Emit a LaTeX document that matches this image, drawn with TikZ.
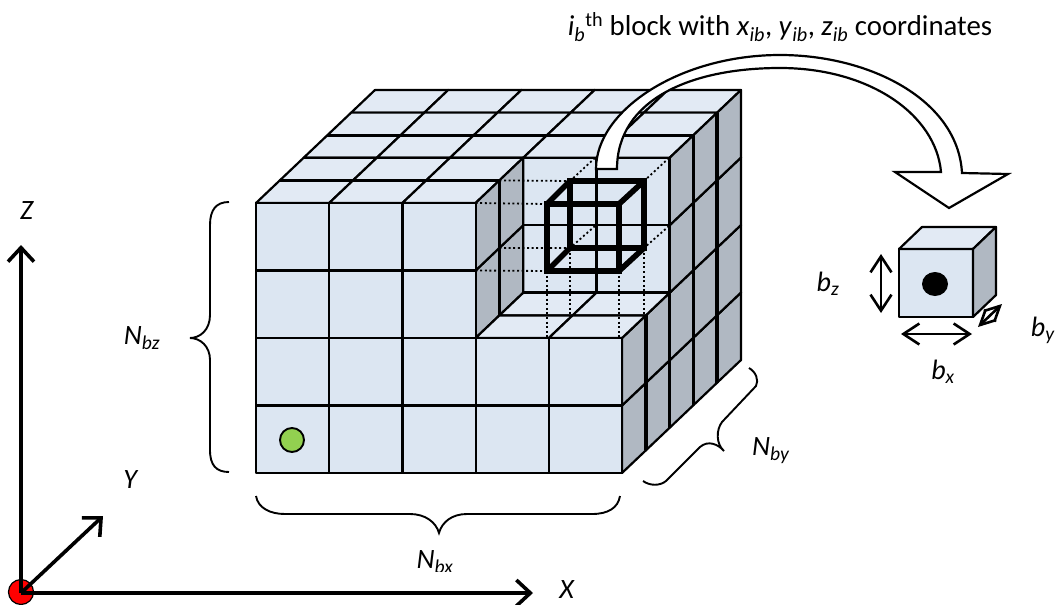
\documentclass[tikz,border=0pt]{standalone}
\usepackage{fontspec}
\setmainfont{Carlito}
\usetikzlibrary{arrows.meta}
\definecolor{frontblue}{HTML}{DCE6F2}
\definecolor{topblue}{HTML}{E2EAF4}
\definecolor{sidegray}{HTML}{B0B8C2}
\definecolor{dotgreen}{HTML}{92D050}
% grid point: column, depth, level
\newcommand{\gp}[3]{({256+73.2*(#1)+23.8*(#2)},{473-67.5*(#3)-22.6*(#2)})}
\newcommand{\sublab}[2]{\textit{#1}\textsubscript{\textit{#2}}}
\tikzset{
    grid line/.style={draw=black, line width=2.2pt, line join=round},
    front cell/.style={grid line, fill=frontblue},
    top cell/.style={grid line, fill=topblue},
    side cell/.style={grid line, fill=sidegray},
    heavy line/.style={black, line width=3.6pt},
    hidden line/.style={black, line width=1.8pt, dash pattern=on 2pt off 2.6pt},
    wire line/.style={black, line width=5.6pt, line join=miter},
    axis arrow/.style={black, line width=3.6pt, -{Straight Barb[length=14pt,width=26pt,line width=3.6pt]}},
    size arrow/.style={black, line width=2.6pt, {Straight Barb[length=16pt,width=21pt]}-{Straight Barb[length=16pt,width=21pt]}},
    small arrow/.style={black, line width=2.6pt, {Straight Barb[length=15pt,width=15pt]}-{Straight Barb[length=15pt,width=15pt]}},
    brace line/.style={black, line width=1.9pt},
    lab/.style={font=\fontsize{28}{32}\selectfont, inner sep=0pt},
}
\begin{document}
\begin{tikzpicture}[x=1pt, y=-1pt]
    \useasboundingbox (0,0) rectangle (1055,605);

    % Back wall of the notch
    \foreach \i in {3,4} \foreach \k in {2,3}
        \draw[front cell] \gp{\i}{2}{\k} -- \gp{\i+1}{2}{\k} -- \gp{\i+1}{2}{\k+1} -- \gp{\i}{2}{\k+1} -- cycle;

    % Top faces
    \foreach \i in {0,...,4} \foreach \d in {4,3,2}
        \draw[top cell] \gp{\i}{\d}{4} -- \gp{\i+1}{\d}{4} -- \gp{\i+1}{\d+1}{4} -- \gp{\i}{\d+1}{4} -- cycle;
    \foreach \i in {0,1,2} \foreach \d in {1,0}
        \draw[top cell] \gp{\i}{\d}{4} -- \gp{\i+1}{\d}{4} -- \gp{\i+1}{\d+1}{4} -- \gp{\i}{\d+1}{4} -- cycle;

    % Side faces
    \foreach \d in {4,3,2} \foreach \k in {0,...,3}
        \draw[side cell] \gp{5}{\d}{\k} -- \gp{5}{\d+1}{\k} -- \gp{5}{\d+1}{\k+1} -- \gp{5}{\d}{\k+1} -- cycle;
    \foreach \d in {1,0} \foreach \k in {2,3}
        \draw[side cell] \gp{3}{\d}{\k} -- \gp{3}{\d+1}{\k} -- \gp{3}{\d+1}{\k+1} -- \gp{3}{\d}{\k+1} -- cycle;
    \foreach \d in {1,0} \foreach \k in {0,1}
        \draw[side cell] \gp{5}{\d}{\k} -- \gp{5}{\d+1}{\k} -- \gp{5}{\d+1}{\k+1} -- \gp{5}{\d}{\k+1} -- cycle;

    % Floor of the notch
    \foreach \i in {3,4} \foreach \d in {1,0}
        \draw[top cell] \gp{\i}{\d}{2} -- \gp{\i+1}{\d}{2} -- \gp{\i+1}{\d+1}{2} -- \gp{\i}{\d+1}{2} -- cycle;

    % Front faces
    \foreach \i in {0,1,2} \foreach \k in {0,...,3}
        \draw[front cell] \gp{\i}{0}{\k} -- \gp{\i+1}{0}{\k} -- \gp{\i+1}{0}{\k+1} -- \gp{\i}{0}{\k+1} -- cycle;
    \foreach \i in {3,4} \foreach \k in {0,1}
        \draw[front cell] \gp{\i}{0}{\k} -- \gp{\i+1}{0}{\k} -- \gp{\i+1}{0}{\k+1} -- \gp{\i}{0}{\k+1} -- cycle;

    % Heavier edges
    \draw[heavy line] \gp{3}{1}{2} -- \gp{3}{1}{4};
    \draw[heavy line] \gp{5}{1}{0} -- \gp{5}{1}{2};
    \draw[heavy line] \gp{5}{2}{0} -- \gp{5}{2}{4};
    \draw[heavy line] \gp{5}{3}{0} -- \gp{5}{3}{4};
    \draw[heavy line] \gp{5}{4}{0} -- \gp{5}{4}{4};
    \draw[grid line, line width=2.8pt] \gp{0}{1}{4} -- \gp{3}{1}{4};
    \draw[grid line, line width=2.8pt] \gp{0}{3}{4} -- \gp{5}{3}{4};
    \draw[grid line, line width=2.8pt] \gp{3}{2}{2} -- \gp{5}{2}{2};

    % Hidden edges round the picked block
    \draw[hidden line] \gp{3}{0}{4} -- (547,204);
    \draw[hidden line] \gp{3}{0}{3} -- (547,271);
    \draw[hidden line] \gp{3}{1}{4} -- (570,181);
    \draw[hidden line] \gp{3}{1}{3} -- (570,248);
    \draw[hidden line] (595,158) -- (570,181);
    \draw[hidden line] (669,158) -- (644,181);
    \draw[hidden line] (595,226) -- (570,248);
    \draw[hidden line] (669,226) -- (644,248);
    \draw[hidden line] (547,271) -- (547,338);
    \draw[hidden line] (570,248) -- (570,316);
    \draw[hidden line] (619,271) -- (619,338);
    \draw[hidden line] (644,248) -- (644,316);

    % Picked block
    \draw[wire line] (570,181) rectangle (644,248);
    \draw[wire line] (547,204) rectangle (619,271);
    \draw[wire line] (547,204) -- (570,181);
    \draw[wire line] (619,204) -- (644,181);
    \draw[wire line] (547,271) -- (570,248);
    \draw[wire line] (619,271) -- (644,248);

    % Green dot
    \draw[fill=dotgreen, line width=1.9pt] (292,440) ellipse (12 and 12);

    % Curved block arrow
    \draw[fill=white, line width=2.2pt, line join=miter]
        (596,169) .. controls (596,110) and (680,55) .. (780,55)
        .. controls (870,55) and (958,100) .. (962,173)
        -- (1008,174) -- (949,208) -- (895,172) -- (941,172)
        .. controls (936,115) and (870,68) .. (780,68)
        .. controls (690,68) and (617,100) .. (617,169) -- cycle;

    % Single block
    \draw[front cell] (899,249) rectangle (973,317);
    \draw[top cell] (899,249) -- (922,227) -- (996,227) -- (973,249) -- cycle;
    \draw[side cell] (973,249) -- (996,227) -- (996,295) -- (973,317) -- cycle;
    \fill[black] (935,284) ellipse (13 and 12);

    % Size arrows
    \coordinate (bzlow) at (881,313);
    \coordinate (bzhigh) at (881,254);
    \coordinate (bxleft) at (901,334);
    \coordinate (bxright) at (972,334);
    \coordinate (byfront) at (978,327);
    \coordinate (byback) at (1002,304);
    \draw[size arrow] (bzlow) -- (bzhigh);
    \draw[size arrow] (bxleft) -- (bxright);
    \draw[small arrow] (byfront) -- (byback);

    % Braces
    \draw[brace line] (229,202) .. controls (216,202) and (210,210) .. (210,225) -- (210,315)
        .. controls (210,330) and (200,338) .. (190,338)
        .. controls (200,338) and (210,346) .. (210,360) -- (210,450)
        .. controls (210,465) and (216,472) .. (229,472);
    \draw[brace line] (256,496) .. controls (258,508) and (270,514) .. (285,514) -- (410,514)
        .. controls (425,514) and (436,522) .. (439,533)
        .. controls (442,522) and (452,514) .. (467,514) -- (592,514)
        .. controls (608,514) and (618,508) .. (620,496);
    \draw[brace line] (749,368) .. controls (756,372) and (759,380) .. (756,386) -- (722,422)
        .. controls (716,430) and (716,444) .. (724,451)
        .. controls (718,444) and (708,440) .. (700,447) -- (666,481)
        .. controls (660,486) and (650,486) .. (643,481);

    % Axes
    \fill[red, draw=black, line width=1.2pt] (21,592) circle (12.5);
    \coordinate (origin) at (21,593);
    \coordinate (zend) at (21,245);
    \coordinate (xend) at (533,593);
    \coordinate (yend) at (103,516);
    \draw[axis arrow] (origin) -- (zend);
    \draw[axis arrow] (origin) -- (xend);
    \draw[axis arrow] (origin) -- (yend);

    % Labels
    \node[lab] (zlabel) at (27,211) {\textit{Z}};
    \node[lab] (ylabel) at (131,480) {\textit{Y}};
    \node[lab] (xlabel) at (567,590) {\textit{X}};
    \node[lab] (nbzlabel) at (142,338) {\sublab{N}{bz}};
    \begin{scope}
        \clip (400,530) rectangle (490,571.5);
        \node[lab] (nbxlabel) at (435,562) {\sublab{N}{bx}};
    \end{scope}
    \node[lab] (nbylabel) at (771,451) {\sublab{N}{by}};
    \node[lab] (bzlabel) at (828,284) {\sublab{b}{z}};
    \node[lab] (bylabel) at (1043,330) {\sublab{b}{y}};
    \node[lab] (bxlabel) at (943,372) {\sublab{b}{x}};
    \node[lab, font=\fontsize{28.8}{32}\selectfont] (title) at (780,27) {\sublab{i}{b}\textsuperscript{th} block with \sublab{x}{ib}, \sublab{y}{ib}, \sublab{z}{ib} coordinates};
\end{tikzpicture}
\end{document}
